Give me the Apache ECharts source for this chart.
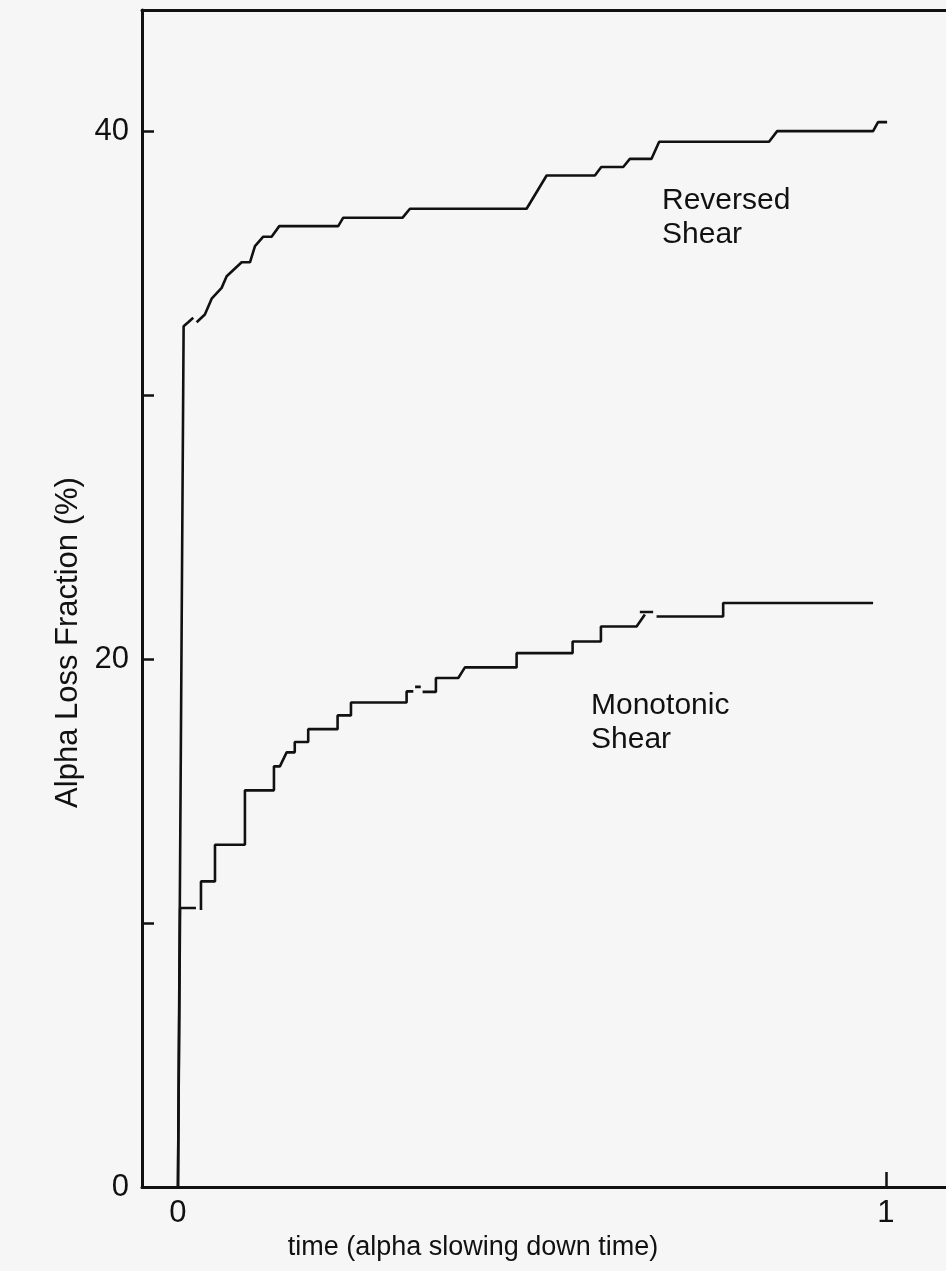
<!DOCTYPE html>
<html>
<head>
<meta charset="utf-8">
<script src="https://cdn.jsdelivr.net/npm/echarts@6/dist/echarts.min.js"></script>
<style>
  html, body { margin: 0; padding: 0; background: #f6f6f6; }
  #chart { width: 946px; height: 1271px; }
</style>
</head>
<body>
<div id="chart"></div>
<script>
// reversed shear curve ('-' = gap in the trace)
const reversedT = [0, 0.008, 0.0145, 0.0216, 0.024, 0.0264, 0.038, 0.0476, 0.0617, 0.0688, 0.09, 0.1017, 0.1088, 0.1205, 0.1323, 0.1431, 0.2264, 0.2335, 0.3174, 0.3277, 0.4925, 0.5208, 0.589, 0.598, 0.629, 0.6384, 0.669, 0.6798, 0.835, 0.8465, 0.982, 0.989, 1.0018]
const reversedV = [0, 32.62, 32.77, 32.94, '-', 32.77, 33.06, 33.66, 34.07, 34.51, 35.04, 35.04, 35.65, 36.01, 36.01, 36.41, 36.41, 36.73, 36.73, 37.07, 37.07, 38.33, 38.33, 38.65, 38.65, 38.96, 38.96, 39.61, 39.61, 40.01, 40.01, 40.35, 40.35]

// monotonic shear curve
const monotonicT = [0, 0.003, 0.0254, 0.029, 0.0325, 0.0325, 0.0523, 0.0523, 0.0946, 0.0946, 0.1356, 0.1356, 0.144, 0.1535, 0.165, 0.165, 0.184, 0.184, 0.2255, 0.2255, 0.2444, 0.2444, 0.323, 0.323, 0.3325, 0.334, 0.335, 0.343, 0.344, 0.3456, 0.3644, 0.3644, 0.396, 0.4054, 0.4784, 0.4784, 0.5575, 0.5575, 0.5975, 0.5975, 0.6479, 0.6596, 0.66, 0.6525, 0.6713, 0.672, 0.6761, 0.7702, 0.7702, 0.982]
const monotonicV = [0, 10.57, 10.57, '-', 10.5, 11.58, 11.58, 12.97, 12.97, 15.03, 15.03, 15.94, 15.94, 16.47, 16.47, 16.86, 16.86, 17.35, 17.35, 17.87, 17.87, 18.36, 18.36, 18.78, 18.78, '-', 18.95, 18.95, '-', 18.76, 18.76, 19.29, 19.29, 19.69, 19.69, 20.23, 20.23, 20.67, 20.67, 21.24, 21.24, 21.69, '-', 21.79, 21.79, '-', 21.62, 21.62, 22.13, 22.13]

const xTicks = [1]
const xLabels = [0, 1]
const yTicks = [10, 20, 30, 40]
const yLabels = [0, 20, 40]

const font = 'Liberation Sans, Arial, sans-serif'
const ink = '#111'

function zip(ts, vs) {
    return ts.map((t, i) => [t, vs[i]])
}

let chartDom = document.getElementById('chart')
let myChart = echarts.init(chartDom)

let option = {
    backgroundColor: '#f6f6f6',
    animation: false,
    grid: {left: 142, right: 0, top: 10, bottom: 84},
    xAxis: [{
        type: 'value',
        position: 'bottom',
        min: -0.0508,
        max: 1.085,
        name: 'time (alpha slowing down time)',
        nameLocation: 'middle',
        nameGap: 44,
        nameTextStyle: {fontFamily: font, fontSize: 27, color: ink, padding: [0, 142, 0, 0]},
        axisLine: {onZero: false, lineStyle: {color: ink, width: 3}},
        axisTick: {inside: true, length: 15, lineStyle: {color: ink, width: 2.5}, customValues: xTicks},
        axisLabel: {fontFamily: font, fontSize: 31, color: ink, margin: 11, customValues: xLabels},
        splitLine: {show: false}
    }, {
        type: 'value',
        position: 'top',
        min: -0.0508,
        max: 1.085,
        axisLine: {show: true, onZero: false, lineStyle: {color: ink, width: 3}},
        axisTick: {show: false},
        axisLabel: {show: false},
        splitLine: {show: false}
    }],
    yAxis: {
        type: 'value',
        position: 'left',
        min: 0,
        max: 44.6,
        name: 'Alpha Loss Fraction (%)',
        nameLocation: 'middle',
        nameGap: 42,
        nameTextStyle: {fontFamily: font, fontSize: 31, color: ink, padding: [0, 88, 0, 0]},
        axisLine: {show: true, onZero: false, lineStyle: {color: ink, width: 3}},
        axisTick: {show: true, inside: true, length: 12, lineStyle: {color: ink, width: 2.5}, customValues: yTicks},
        axisLabel: {fontFamily: font, fontSize: 31, color: ink, margin: 13, customValues: yLabels},
        splitLine: {show: false}
    },
    series: [{
        name: 'Reversed Shear',
        type: 'line',
        data: zip(reversedT, reversedV),
        showSymbol: false,
        connectNulls: false,
        lineStyle: {color: ink, width: 2.6},
        z: 3
    }, {
        name: 'Monotonic Shear',
        type: 'line',
        data: zip(monotonicT, monotonicV),
        showSymbol: false,
        connectNulls: false,
        lineStyle: {color: ink, width: 2.6},
        z: 3
    }],
    graphic: [{
        type: 'text',
        left: 662,
        top: 184,
        style: {text: 'Reversed\nShear', font: '30px ' + font, fill: ink, lineHeight: 34}
    }, {
        type: 'text',
        left: 591,
        top: 689,
        style: {text: 'Monotonic\nShear', font: '30px ' + font, fill: ink, lineHeight: 34}
    }]
}

myChart.setOption(option)

window.addEventListener('resize', () => {
    myChart.resize()
})
</script>
</body>
</html>
